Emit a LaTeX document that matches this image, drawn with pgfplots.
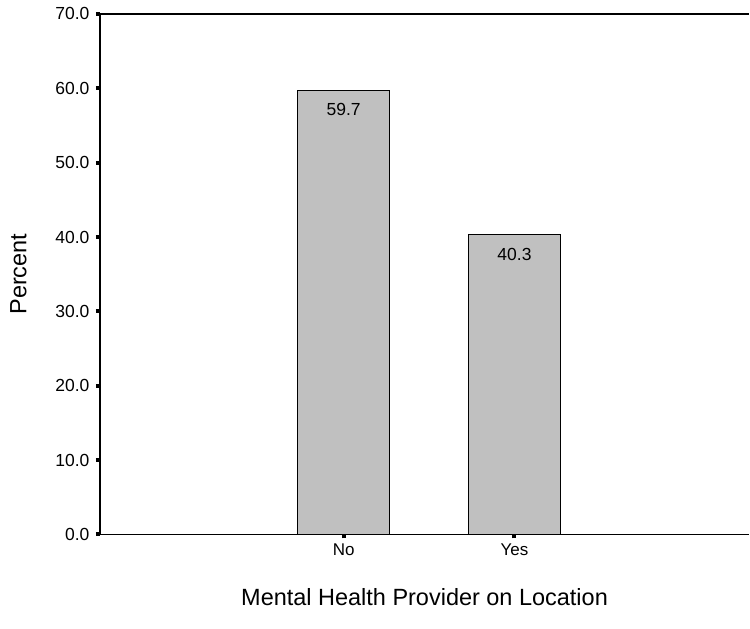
\documentclass[border=0pt]{standalone}
\usepackage{pgfplots}
\pgfplotsset{compat=1.18}
\usepackage{fontspec}
\setmainfont{Liberation Sans}
\definecolor{barfill}{RGB}{192,192,192}
\begin{document}
\begin{tikzpicture}
\begin{axis}[
    name=ax,
    scale only axis,
    width=650pt, height=521pt,
    xmin=-0.427, xmax=3.374,
    ymin=0, ymax=70,
    enlargelimits=false,
    axis x line*=bottom,
    axis y line*=left,
    axis line style={line width=1.6pt},
    xtick={1,2},
    xticklabels={No,Yes},
    ytick={0,10,20,30,40,50,60,70},
    tick align=outside,
    major tick length=4pt,
    tick style={line width=4pt, black},
    yticklabel style={/pgf/number format/fixed, /pgf/number format/precision=1,
        /pgf/number format/fixed zerofill, /pgf/number format/assume math mode=true,
        font=\fontsize{17.5}{20}\selectfont, xshift=-3pt},
    xticklabel style={font=\fontsize{17}{20}\selectfont, yshift=-2pt},
    ylabel={Percent},
    xlabel={Mental Health Provider on Location},
    ylabel style={font=\fontsize{23.5}{27}\selectfont, yshift=22pt},
    xlabel style={font=\fontsize{23.5}{27}\selectfont, yshift=-26pt},
    clip=false,
]
\addplot[ybar, bar width=92pt, fill=barfill, draw=black, line width=1.4pt,
    nodes near coords,
    nodes near coords style={/pgf/number format/fixed, /pgf/number format/precision=1,
        /pgf/number format/fixed zerofill, /pgf/number format/assume math mode=true,
        font=\fontsize{17.5}{20}\selectfont, anchor=north, yshift=-9pt}]
    coordinates {(1,59.7) (2,40.3)};
\draw[line width=1.6pt] (rel axis cs:0,1) -- (rel axis cs:1,1);
\end{axis}
\path (ax.south west) +(-100pt,-94pt);
\path (ax.north east) +(0pt,14pt);
\end{tikzpicture}
\end{document}
